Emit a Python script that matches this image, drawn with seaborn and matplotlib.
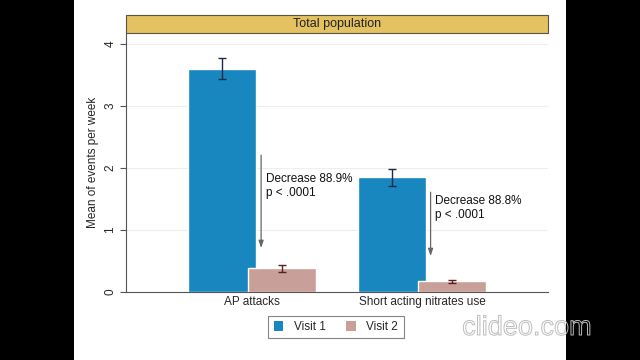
import matplotlib
matplotlib.use("Agg")
import matplotlib.pyplot as plt
import matplotlib.patches as mpatches
import matplotlib.patheffects as pe
import seaborn as sns
import pandas as pd

# ---- data ----
categories = ["AP attacks", "Short acting nitrates use"]
visits = ["Visit 1", "Visit 2"]
visit1_mean = [3.60, 1.85]
visit1_err = [0.17, 0.14]
visit2_mean = [0.38, 0.17]
visit2_err = [0.05, 0.03]
annotations = ["Decrease 88.9%\np < .0001", "Decrease 88.8%\np < .0001"]
title = "Total population"
ylabel = "Mean of events per week"
yticks = [0, 1, 2, 3, 4]

df = pd.DataFrame({
    "category": categories * 2,
    "visit": [visits[0]] * 2 + [visits[1]] * 2,
    "mean": visit1_mean + visit2_mean,
})

sns.set_theme(style="white")
plt.rcParams["font.family"] = ["Liberation Sans", "DejaVu Sans"]

W, H = 640, 360
fig = plt.figure(figsize=(6.4, 3.6), dpi=100, facecolor="black")

# white page area between black borders
fig.add_artist(mpatches.Rectangle((74 / W, 0), (566 - 74) / W, 1,
                                  transform=fig.transFigure, facecolor="white",
                                  edgecolor="none", zorder=-10))

ax_l, ax_r, ax_t, ax_b = 126, 548, 33, 292
ax = fig.add_axes([ax_l / W, 1 - ax_b / H, (ax_r - ax_l) / W, (ax_b - ax_t) / H])
ax.set_zorder(1)
ax.set_facecolor("white")

blue = "#1886BF"
pink = "#C9A099"
sns.barplot(data=df, x="category", y="mean", hue="visit", order=categories,
            hue_order=visits, palette=[blue, pink], width=0.7, gap=-0.143,
            errorbar=None, saturation=1, ax=ax, legend=False, zorder=2)

# error bars at bar centres
ecolors = ["#1c2a44", "#5b1f1f"]
for cont, means, errs, ec in zip(ax.containers, [visit1_mean, visit2_mean],
                                 [visit1_err, visit2_err], ecolors):
    xs = [p.get_x() + p.get_width() / 2 for p in cont.patches]
    ax.errorbar(xs, means, yerr=errs, fmt="none", ecolor=ec, elinewidth=1.0,
                capsize=3.2, capthick=1.0, zorder=3)

ax.set_xlim(-0.74, 1.74)
ax.set_ylim(0, 4.18)
ax.set_yticks(yticks)
ax.set_xlabel("")
ax.set_ylabel(ylabel, fontsize=8.5, labelpad=4)
ax.yaxis.grid(True, color="#eeeeee", lw=0.8)
ax.set_axisbelow(True)
for s in ["top", "right"]:
    ax.spines[s].set_visible(False)
for s in ["left", "bottom"]:
    ax.spines[s].set_color("#555555")
    ax.spines[s].set_linewidth(0.8)
ax.tick_params(axis="y", length=4, width=0.8, color="#555555", labelsize=8.5,
               pad=3, labelrotation=90, left=True)
for lbl in ax.get_yticklabels():
    lbl.set_va("center")
ax.tick_params(axis="x", length=0, labelsize=8.5, pad=3)

# annotations: arrows and texts
arrows = [(0.054, 2.21, 0.71), (1.05, 1.61, 0.58)]
text_pos = [(0.085, 1.71), (1.074, 1.35)]
for (x, y0, y1), (tx, ty), txt in zip(arrows, text_pos, annotations):
    ax.annotate("", xy=(x, y1), xytext=(x, y0),
                arrowprops=dict(arrowstyle="-|>,head_length=0.35,head_width=0.12",
                                color="#666666", lw=0.9, shrinkA=0, shrinkB=0),
                zorder=4)
    ax.text(tx, ty, txt, fontsize=8.5, ha="left", va="center",
            linespacing=1.25, color="#111111", zorder=4)

# title strip
strip = mpatches.Rectangle((ax_l / W, 1 - 33 / H), (ax_r - ax_l) / W, 18 / H,
                           transform=fig.transFigure, facecolor="#E4C262",
                           edgecolor="#5a5444", lw=0.8, zorder=2)
fig.add_artist(strip)
fig.text((ax_l + ax_r) / 2 / W, 1 - 24 / H, title, ha="center", va="center",
         fontsize=9, color="#222222", zorder=3)

# legend
handles = [mpatches.Patch(facecolor=blue, edgecolor="none", label=visits[0]),
           mpatches.Patch(facecolor=pink, edgecolor="none", label=visits[1])]
leg = fig.legend(handles=handles, loc="center", bbox_to_anchor=(336 / W, 1 - 327 / H),
                 ncol=2, fontsize=8.5, frameon=True, fancybox=False,
                 edgecolor="#666666", handlelength=0.8, handleheight=1.0,
                 columnspacing=1.75, handletextpad=0.9, borderpad=0.45,
                 borderaxespad=0)
leg.get_frame().set_linewidth(0.8)

# watermark
fig.text(527 / W, 1 - 328 / H, "clideo.com", ha="center", va="center",
         fontsize=19.5, color="none", zorder=10,
         path_effects=[pe.Stroke(linewidth=0.7, foreground="#bdbdbd")])

fig.savefig("out.png", dpi=100, facecolor=fig.get_facecolor())
